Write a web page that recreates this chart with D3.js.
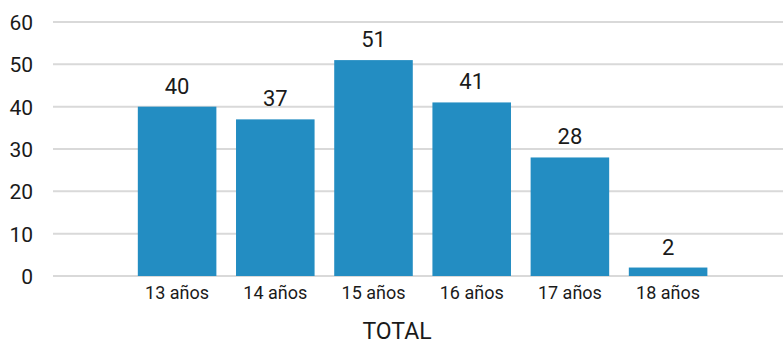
<!DOCTYPE html>
<html>
<head>
<meta charset="utf-8">
<script src="https://cdn.jsdelivr.net/npm/d3@7/dist/d3.min.js"></script>
<style>
  html, body { margin: 0; padding: 0; background: #fff; }
  svg { display: block; font-family: Roboto, "Noto Sans", sans-serif; }
</style>
</head>
<body>
<svg id="chart" width="783" height="346"></svg>
<script>
// Edades y número de personas por edad
const categories = ["13 años", "14 años", "15 años", "16 años", "17 años", "18 años"];
const values = [40, 37, 51, 41, 28, 2];
const yTicks = [0, 10, 20, 30, 40, 50, 60];
const xTitle = "TOTAL";

const svg = d3.select("#chart");
const W = 783;

const x = d3.scaleBand()
  .domain(categories)
  .range([128, 717.2])
  .paddingInner(0.2)
  .paddingOuter(0.1);

const y = d3.scaleLinear()
  .domain([0, 60])
  .range([276, 22]);

// Líneas de cuadrícula horizontales
svg.append("g")
  .selectAll("line")
  .data(yTicks)
  .join("line")
  .attr("x1", 53)
  .attr("x2", W)
  .attr("y1", d => y(d))
  .attr("y2", d => y(d))
  .attr("stroke", "#d9d9d9")
  .attr("stroke-width", 2);

// Eje Y: etiquetas
const yAxis = d3.axisLeft(y).tickValues(yTicks).tickSize(0).tickPadding(0);
const gy = svg.append("g").attr("transform", "translate(33,0)").call(yAxis);
gy.select(".domain").remove();
gy.selectAll("text")
  .attr("font-size", 21)
  .attr("font-family", "Roboto, sans-serif")
  .attr("fill", "#1a1a1a")
  .attr("dy", "0.36em");

// Barras
svg.append("g")
  .selectAll("rect")
  .data(values)
  .join("rect")
  .attr("x", (d, i) => x(categories[i]))
  .attr("width", x.bandwidth())
  .attr("y", d => y(d))
  .attr("height", d => y(0) - y(d))
  .attr("fill", "#238dc2");

// Etiquetas de valor
svg.append("g")
  .selectAll("text")
  .data(values)
  .join("text")
  .attr("x", (d, i) => x(categories[i]) + x.bandwidth() / 2)
  .attr("y", d => y(d) - 13)
  .attr("text-anchor", "middle")
  .attr("font-size", 22)
  .attr("fill", "#1a1a1a")
  .text(d => d);

// Eje X: etiquetas de categoría
const xAxis = d3.axisBottom(x).tickSize(0).tickPadding(0);
const gx = svg.append("g").attr("transform", `translate(0,${y(0)})`).call(xAxis);
gx.select(".domain").remove();
gx.selectAll("text")
  .attr("font-size", 18)
  .attr("font-family", "Roboto, sans-serif")
  .attr("fill", "#1a1a1a")
  .attr("dy", "1.25em");

// Título del eje X
svg.append("text")
  .attr("x", 397)
  .attr("y", 339)
  .attr("text-anchor", "middle")
  .attr("font-size", 23)
  .attr("fill", "#1a1a1a")
  .text(xTitle);
</script>
</body>
</html>
